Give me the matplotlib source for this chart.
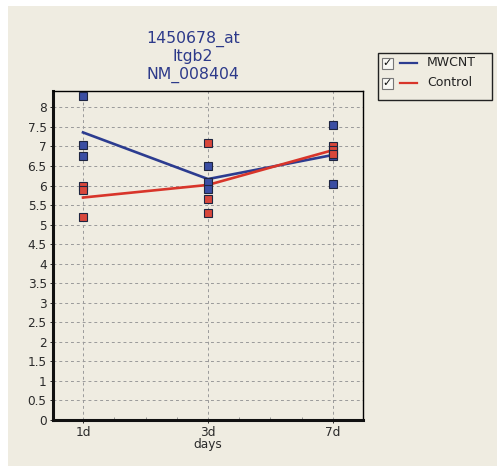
import numpy as np
import matplotlib
matplotlib.use("Agg")
import matplotlib.pyplot as plt
from matplotlib.patches import Rectangle
from matplotlib.lines import Line2D
from matplotlib.ticker import MultipleLocator

# data
days = ["1d", "3d", "7d"]
mwcnt = [[8.28, 7.05, 6.75], [6.5, 6.1, 5.9], [7.55, 6.75, 6.05]]
control = [[6.0, 5.88, 5.2], [7.1, 5.65, 5.3], [7.02, 6.9, 6.8]]
title_lines = ["1450678_at", "Itgb2", "NM_008404"]

bg = "#efece1"
blue = "#2c3c90"
red = "#d8352a"

fig = plt.figure(figsize=(4.97, 4.72), dpi=100, facecolor="white")
fig.patches.append(Rectangle((8/497, 6/472), 1 - 8/497, 1 - 12/472,
                             transform=fig.transFigure, facecolor=bg,
                             edgecolor="none", zorder=-10))

ax = fig.add_axes([53/497, 1 - 420/472, 310/497, 329/472])
ax.set_facecolor(bg)

x = np.arange(len(days))
for vals, col, face in [(mwcnt, blue, "#3b4ea3"), (control, red, "#d9473b")]:
    means = [np.mean(v) for v in vals]
    ax.plot(x, means, color=col, lw=1.9, zorder=3)
    for i, v in enumerate(vals):
        ax.plot([x[i]] * len(v), v, ls="none", marker="s", ms=6,
                mfc=face, mec="#1e2540", mew=0.8, zorder=4)

ax.set_xlim(-0.24, 2.24)
ax.set_ylim(0, 8.42)
ax.set_xticks(x)
ax.set_xticklabels(days)
ax.yaxis.set_major_locator(MultipleLocator(0.5))
ax.yaxis.set_major_formatter(matplotlib.ticker.FuncFormatter(lambda v, p: "%g" % v))
ax.xaxis.set_minor_locator(MultipleLocator(0.25))
ax.tick_params(axis="both", which="major", labelsize=8.7, length=2.5, width=0.7,
               colors="#2a2a2a", pad=2)
ax.tick_params(axis="x", which="minor", direction="in", length=2, width=0.6,
               color="#888888")
ax.set_xlabel("days", fontsize=8.7, labelpad=-1, color="#2a2a2a")

ax.grid(True, which="major", linestyle=(0, (3, 3)), color="#9a9a9a", lw=0.7)
for s in ["left", "bottom"]:
    ax.spines[s].set_linewidth(2.2)
    ax.spines[s].set_color("#111111")
for s in ["top", "right"]:
    ax.spines[s].set_linewidth(1.0)

fig.text(193/497, 1 - 37/472, "\n".join(title_lines), ha="center", va="center",
         fontsize=11.3, color="#2d3a8a", linespacing=1.2)
fig.texts[-1].set_position((193/497, 1 - 57/472))

# legend with check boxes
fig.patches.append(Rectangle((378/497, 1 - 100/472), 114/497, 47/472,
                             transform=fig.transFigure, facecolor=bg,
                             edgecolor="#222222", lw=1.0, zorder=5))
for yy, col, lab in [(63, blue, "MWCNT"), (83, red, "Control")]:
    fig.patches.append(Rectangle((382/497, 1 - (yy + 6)/472), 11/497, 11/472,
                                 transform=fig.transFigure, facecolor="#f8f8f4",
                                 edgecolor="#777777", lw=0.8, zorder=6))
    fig.text(387.5/497, 1 - yy/472, "\u2713", ha="center", va="center",
             fontsize=8, color="#111111", zorder=7)
    fig.lines.append(Line2D([400/497, 417/497], [1 - yy/472, 1 - yy/472],
                            transform=fig.transFigure, color=col, lw=1.6, zorder=7))
    fig.text(427/497, 1 - yy/472, lab, ha="left", va="center", fontsize=9,
             color="#222222", zorder=7)

fig.savefig("out.png", dpi=100, facecolor="white")
